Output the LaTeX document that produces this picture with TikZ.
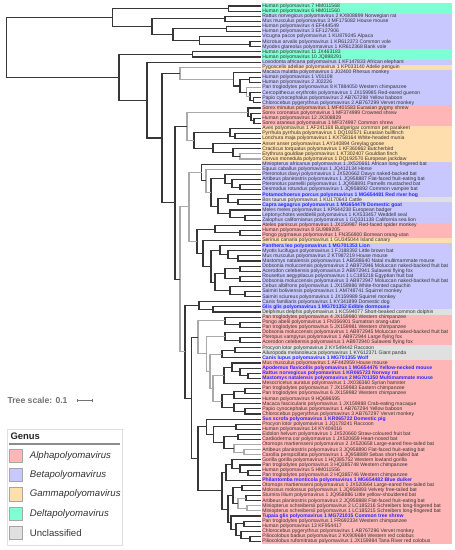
\documentclass[tikz,border=0pt]{standalone}
\usepackage{fontspec}
\setmainfont{Liberation Sans}
\usetikzlibrary{calc}
\usetikzlibrary{positioning}
\tikzset{every picture/.style={line width=0.75pt}}

\definecolor{cAlpha}{RGB}{255,182,182}
\definecolor{cBeta}{RGB}{200,200,255}
\definecolor{cGamma}{RGB}{255,222,173}
\definecolor{cDelta}{RGB}{127,255,212}
\definecolor{cUncl}{RGB}{224,224,224}
\definecolor{cNew}{RGB}{40,40,255}
\definecolor{cLine}{RGB}{55,55,55}
\definecolor{cGrey}{RGB}{170,170,170}

\tikzset{
  branch/.style={draw=cLine, line width=0.8pt},
  grey/.style={draw=cGrey},
  leaf/.style={fill=#1, anchor=west, inner xsep=0.6pt, inner ysep=0pt,
    minimum height=3.83pt, text height=2.8pt, text depth=0.8pt,
    font=\fontsize{3.8}{3.8}\selectfont, text=black!80,
    execute at begin node={\hbox to 142pt\bgroup},
    execute at end node={\hfil\egroup}},
  newpv/.style={text=cNew, font=\fontsize{3.8}{3.8}\selectfont\bfseries},
  swatch/.style={fill=#1, draw=black!35, line width=0.5pt, minimum size=10pt, inner sep=0pt},
  glabel/.style={font=\fontsize{7.2}{7.2}\selectfont\itshape, text=black!80, inner sep=0pt}
}

% internal node of the tree: name, x, upper child, lower child
\newcommand\bnode[5][]{%
  \coordinate (#2m) at ($(#4)!0.5!(#5)$);
  \coordinate (#2) at (#2m -| #3,0);
  \draw[branch,#1] (#2) |- (#4);
  \draw[branch,#1] (#2) |- (#5);
}

\begin{document}
\begin{tikzpicture}[x=0.75pt,y=0.75pt,yscale=-1,xscale=1]
\useasboundingbox (0,0) rectangle (454,550);

% Leaves
\node[leaf=cDelta] (l1) at (261,6.0) {Human polyomavirus 7 HM011568};
\node[leaf=cDelta] (l2) at (261,11.1) {Human polyomavirus 6 HM011560};
\node[leaf=cBeta] (l3) at (261,16.2) {Rattus norvegicus polyomavirus 2 KX808899 Norwegian rat};
\node[leaf=cBeta] (l4) at (261,21.3) {Mus musculus polyomavirus 3 MF175082 House mouse};
\node[leaf=cBeta] (l5) at (261,26.4) {Human polyomavirus 4 EF444549};
\node[leaf=cBeta] (l6) at (261,31.5) {Human polyomavirus 3 EF127906};
\node[leaf=cBeta] (l7) at (261,36.6) {Vicugna pacos polyomavirus 1 KU879245 Alpaca};
\node[leaf=cBeta] (l8) at (261,41.7) {Microtus arvalis polyomavirus 1 KR612373 Common vole};
\node[leaf=cBeta] (l9) at (261,46.8) {Myodes glareolus polyomavirus 1 KR612368 Bank vole};
\node[leaf=cDelta] (l10) at (261,51.9) {Human polyomavirus 11 JX463183};
\node[leaf=cDelta] (l11) at (261,57.0) {Human polyomavirus 10 JQ898291};
\node[leaf=cBeta] (l12) at (261,62.1) {Loxodonta africana polyomavirus 1 KF147833 African elephant};
\node[leaf=cGamma] (l13) at (261,67.2) {Pygoscelis adeliae polyomavirus 1 KP033140 Adelie penguin};
\node[leaf=cBeta] (l14) at (261,72.3) {Macaca mulatta polyomavirus 1 J02400 Rhesus monkey};
\node[leaf=cBeta] (l15) at (261,77.4) {Human polyomavirus 1 V01108};
\node[leaf=cBeta] (l16) at (261,82.5) {Human polyomavirus 2 J02226};
\node[leaf=cBeta] (l17) at (261,87.6) {Pan troglodytes polyomavirus 8 KT884050 Western chimpanzee};
\node[leaf=cBeta] (l18) at (261,92.7) {Cercopithecus erythrotis polyomavirus 1 JX159985 Red-eared guenon};
\node[leaf=cBeta] (l19) at (261,97.8) {Papio cynocephalus polyomavirus 2 AB767298 Yellow baboon};
\node[leaf=cBeta] (l20) at (261,102.9) {Chlorocebus pygerythrus polyomavirus 2 AB767299 Vervet monkey};
\node[leaf=cAlpha] (l21) at (261,108.0) {Sorex minutus polyomavirus 1 MF401583 Eurasian pygmy shrew};
\node[leaf=cAlpha] (l22) at (261,113.1) {Sorex coronatus polyomavirus 1 MF374999 Crowned shrew};
\node[leaf=cAlpha] (l23) at (261,118.2) {Human polyomavirus 12 JX308829};
\node[leaf=cAlpha] (l24) at (261,123.3) {Sorex araneus polyomavirus 1 MF374997 Common shrew};
\node[leaf=cGamma] (l25) at (261,128.4) {Aves polyomavirus 1 AF241168 Budgerigar common pet parakeet};
\node[leaf=cGamma] (l26) at (261,133.5) {Pyrrhula pyrrhula polyomavirus 1 DQ192571 Eurasian bullfinch};
\node[leaf=cGamma] (l27) at (261,138.6) {Lonchura maja polyomavirus 1 KX758164 White-headed munia};
\node[leaf=cGamma] (l28) at (261,143.7) {Anser anser polyomavirus 1 AY140894 Greylag goose};
\node[leaf=cGamma] (l29) at (261,148.8) {Cracticus torquatus polyomavirus 1 KF360862 Butcherbird};
\node[leaf=cGamma] (l30) at (261,153.9) {Erythrura gouldiae polyomavirus 1 KT302407 Gouldian finch};
\node[leaf=cGamma] (l31) at (261,159.0) {Corvus monedula polyomavirus 1 DQ192570 European jackdaw};
\node[leaf=cBeta] (l32) at (261,164.1) {Miniopterus africanus polyomavirus 1 JX520661 African long-fingered bat};
\node[leaf=cBeta] (l33) at (261,169.2) {Equus caballus polyomavirus 1 JQ412134 Horse};
\node[leaf=cBeta] (l34) at (261,174.3) {Pteronotus davyi polyomavirus 1 JX520662 Davys naked-backed bat};
\node[leaf=cBeta] (l35) at (261,179.4) {Artibeus planirostris polyomavirus 1 JQ958887 Flat-faced fruit-eating bat};
\node[leaf=cBeta] (l36) at (261,184.5) {Pteronotus parnellii polyomavirus 1 JQ958891 Parnells mustached bat};
\node[leaf=cBeta] (l37) at (261,189.6) {Desmodus rotundus polyomavirus 1 JQ958892 Common vampire bat};
\node[leaf=cBeta,newpv] (l38) at (261,194.7) {Potamochoerus porcus polyomavirus 1 MG654481 Red river hog};
\node[leaf=cUncl] (l39) at (261,199.8) {Bos taurus polyomavirus 1 KU170643 Cattle};
\node[leaf=cBeta,newpv] (l40) at (261,204.9) {Capra aegagrus polyomavirus 1 MG654479 Domestic goat};
\node[leaf=cBeta] (l41) at (261,210.0) {Meles meles polyomavirus 1 KP644238 European badger};
\node[leaf=cBeta] (l42) at (261,215.1) {Leptonychotes weddellii polyomavirus 1 KX533457 Weddell seal};
\node[leaf=cBeta] (l43) at (261,220.2) {Zalophus californianus polyomavirus 1 GQ331138 California sea lion};
\node[leaf=cAlpha] (l44) at (261,225.3) {Ateles paniscus polyomavirus 1 JX159987 Red-faced spider monkey};
\node[leaf=cAlpha] (l45) at (261,230.4) {Human polyomavirus 8 GU989205};
\node[leaf=cAlpha] (l46) at (261,235.5) {Pongo pygmaeus polyomavirus 1 FN356900 Bornean orang-utan};
\node[leaf=cGamma] (l47) at (261,240.6) {Serinus canaria polyomavirus 1 GU345044 Island canary};
\node[leaf=cBeta,newpv] (l48) at (261,245.7) {Panthera leo polyomavirus 1 MG701353 Lion};
\node[leaf=cBeta] (l49) at (261,250.8) {Myotis lucifugus polyomavirus 1 FJ188392 Little brown bat};
\node[leaf=cBeta] (l50) at (261,255.9) {Mus musculus polyomavirus 2 KT987219 House mouse};
\node[leaf=cBeta] (l51) at (261,261.0) {Mastomys natalensis polyomavirus 1 AB588640 Natal multimammate mouse};
\node[leaf=cBeta] (l52) at (261,266.1) {Dobsonia moluccensis polyomavirus 2 AB972946 Moluccan naked-backed fruit bat};
\node[leaf=cBeta] (l53) at (261,271.2) {Acerodon celebensis polyomavirus 2 AB972941 Sulawesi flying fox};
\node[leaf=cBeta] (l54) at (261,276.3) {Rousettus aegyptiacus polyomavirus 1 LC185218 Egyptian fruit bat};
\node[leaf=cBeta] (l55) at (261,281.4) {Dobsonia moluccensis polyomavirus 3 AB972947 Moluccan naked-backed fruit bat};
\node[leaf=cBeta] (l56) at (261,286.5) {Cebus albifrons polyomavirus 1 JX159986 White-fronted capuchin};
\node[leaf=cBeta] (l57) at (261,291.6) {Saimiri boliviensis polyomavirus 1 AM748741 Squirrel monkey};
\node[leaf=cBeta] (l58) at (261,296.7) {Saimiri sciureus polyomavirus 1 JX159989 Squirrel monkey};
\node[leaf=cBeta] (l59) at (261,301.8) {Canis familiaris polyomavirus 1 KY341899 Domestic dog};
\node[leaf=cBeta,newpv] (l60) at (261,306.9) {Glis glis polyomavirus 1 MG701352 Edible dormouse};
\node[leaf=cUncl] (l61) at (261,312.0) {Delphinus delphis polyomavirus 1 KC594077 Short-beaked common dolphin};
\node[leaf=cAlpha] (l62) at (261,317.1) {Pan troglodytes polyomavirus 4 JX159980 Western chimpanzee};
\node[leaf=cAlpha] (l63) at (261,322.2) {Pongo abelii polyomavirus 1 FN356901 Sumatran orang-utan};
\node[leaf=cAlpha] (l64) at (261,327.3) {Pan troglodytes polyomavirus 5 JX159981 Western chimpanzee};
\node[leaf=cAlpha] (l65) at (261,332.4) {Dobsonia moluccensis polyomavirus 1 AB972945 Moluccan naked-backed fruit bat};
\node[leaf=cAlpha] (l66) at (261,337.5) {Pteropus vampyrus polyomavirus 1 AB972944 Large flying fox};
\node[leaf=cAlpha] (l67) at (261,342.6) {Acerodon celebensis polyomavirus 1 AB972940 Sulawesi flying fox};
\node[leaf=cUncl] (l68) at (261,347.7) {Procyon lotor polyomavirus 2 KY549442 Raccoon};
\node[leaf=cUncl] (l69) at (261,352.8) {Ailuropoda melanoleuca polyomavirus 1 KY612371 Giant panda};
\node[leaf=cUncl,newpv] (l70) at (261,357.9) {Canis lupus polyomavirus 1 MG701355 Wolf};
\node[leaf=cAlpha] (l71) at (261,363.0) {Mus musculus polyomavirus 1 AF442959 House mouse};
\node[leaf=cAlpha,newpv] (l72) at (261,368.1) {Apodemus flavicollis polyomavirus 1 MG654476 Yellow-necked mouse};
\node[leaf=cAlpha,newpv] (l73) at (261,373.2) {Rattus norvegicus polyomavirus 1 KR065723 Norway rat};
\node[leaf=cAlpha,newpv] (l74) at (261,378.3) {Mastomys natalensis polyomavirus 2 MG701350 Multimammate mouse};
\node[leaf=cAlpha] (l75) at (261,383.4) {Mesocricetus auratus polyomavirus 1 JX036360 Syrian hamster};
\node[leaf=cAlpha] (l76) at (261,388.5) {Pan troglodytes polyomavirus 7 JX159983 Eastern chimpanzee};
\node[leaf=cAlpha] (l77) at (261,393.6) {Pan troglodytes polyomavirus 6 JX159982 Western chimpanzee};
\node[leaf=cAlpha] (l78) at (261,398.7) {Human polyomavirus 9 HQ696595};
\node[leaf=cAlpha] (l79) at (261,403.8) {Macaca fascicularis polyomavirus 1 JX159988 Crab-eating macaque};
\node[leaf=cAlpha] (l80) at (261,408.9) {Papio cynocephalus polyomavirus 1 AB767294 Yellow baboon};
\node[leaf=cAlpha] (l81) at (261,414.0) {Chlorocebus pygerythrus polyomavirus 3 AB767297 Vervet monkey};
\node[leaf=cAlpha,newpv] (l82) at (261,419.1) {Sus scrofa polyomavirus 1 KR065722 Domestic pig};
\node[leaf=cAlpha] (l83) at (261,424.2) {Procyon lotor polyomavirus 1 JQ178241 Raccoon};
\node[leaf=cAlpha] (l84) at (261,429.3) {Human polyomavirus 14 KY404016};
\node[leaf=cAlpha] (l85) at (261,434.4) {Eidolon helvum polyomavirus 1 JX520660 Straw-coloured fruit bat};
\node[leaf=cAlpha] (l86) at (261,439.5) {Cardioderma cor polyomavirus 1 JX520659 Heart-nosed bat};
\node[leaf=cAlpha] (l87) at (261,444.6) {Otomops martiensseni polyomavirus 2 JX520658 Large-eared free-tailed bat};
\node[leaf=cAlpha] (l88) at (261,449.7) {Artibeus planirostris polyomavirus 3 JQ958890 Flat-faced fruit-eating bat};
\node[leaf=cAlpha] (l89) at (261,454.8) {Carollia perspicillata polyomavirus 1 JQ958889 Sebas short-tailed bat};
\node[leaf=cAlpha] (l90) at (261,459.9) {Gorilla gorilla polyomavirus 1 HQ385752 Western lowland gorilla};
\node[leaf=cAlpha] (l91) at (261,465.0) {Pan troglodytes polyomavirus 3 HQ385748 Western chimpanzee};
\node[leaf=cAlpha] (l92) at (261,470.1) {Human polyomavirus 5 HM011556};
\node[leaf=cAlpha] (l93) at (261,475.2) {Pan troglodytes polyomavirus 2 HQ385746 Western chimpanzee};
\node[leaf=cAlpha,newpv] (l94) at (261,480.3) {Philantomba monticola polyomavirus 1 MG654482 Blue duiker};
\node[leaf=cAlpha] (l95) at (261,485.4) {Otomops martiensseni polyomavirus 1 JX520664 Large-eared free-tailed bat};
\node[leaf=cAlpha] (l96) at (261,490.5) {Molossus molossus polyomavirus 1 JQ958893 Velvety free-tailed bat};
\node[leaf=cAlpha] (l97) at (261,495.6) {Sturnira lilium polyomavirus 1 JQ958886 Little yellow-shouldered bat};
\node[leaf=cAlpha] (l98) at (261,500.7) {Artibeus planirostris polyomavirus 2 JQ958888 Flat-faced fruit-eating bat};
\node[leaf=cAlpha] (l99) at (261,505.8) {Miniopterus schreibersii polyomavirus 2 LC185216 Schreibers long-fingered bat};
\node[leaf=cAlpha] (l100) at (261,510.9) {Miniopterus schreibersii polyomavirus 1 LC185215 Schreibers long-fingered bat};
\node[leaf=cAlpha,newpv] (l101) at (261,516.0) {Tupaia glis polyomavirus 1 MG721015 Common tree shrew};
\node[leaf=cAlpha] (l102) at (261,521.1) {Pan troglodytes polyomavirus 1 FR692334 Western chimpanzee};
\node[leaf=cAlpha] (l103) at (261,526.2) {Human polyomavirus 13 KF954417};
\node[leaf=cAlpha] (l104) at (261,531.3) {Chlorocebus pygerythrus polyomavirus 1 AB767296 Vervet monkey};
\node[leaf=cAlpha] (l105) at (261,536.4) {Piliocolobus badius polyomavirus 2 KX909684 Western red colobus};
\node[leaf=cAlpha] (l106) at (261,541.5) {Piliocolobus rufomitratus polyomavirus 1 JX159984 Tana River red colobus};

% Tree: first clade
\bnode{n67}{228.3}{l1}{l2}
\bnode{nRM}{225}{l3}{l4}
\bnode{n43}{226.7}{l5}{l6}
\bnode{nMV}{250}{l8}{l9}
\bnode{nD}{199.3}{l7}{nMV}
\bnode{nC}{173}{n43}{nD}
\bnode{nB}{152}{nRM}{nC}
\bnode{nA}{112.7}{n67}{nB}
\bnode{n1011}{192.7}{l10}{l11}
% Tree: primate beta
\bnode{n12}{249.5}{l15}{l16}
\bnode{n1920}{253.3}{l19}{l20}
\bnode{nN}{250}{l18}{n1920}
\bnode[grey]{nM}{246.7}{l17}{nN}
\bnode{nK}{240}{n12}{nM}
\bnode{nI}{233.3}{l14}{nK}
\bnode[grey]{nH}{180}{l13}{nI}
% Tree: shrews and birds
\bnode{nW}{254}{l23}{l24}
\bnode{nV}{251}{l22}{nW}
\bnode{nU}{248}{l21}{nV}
\bnode{nPL}{235}{l26}{l27}
\bnode{nAv}{230}{l25}{nPL}
\bnode[grey]{nT}{240}{l30}{l31}
\bnode{nS}{233}{l29}{nT}
\bnode{nQb}{213}{l28}{nS}
\bnode{nQ}{194}{nAv}{nQb}
\bnode[grey]{nO}{187}{nU}{nQ}
% Tree: mixed beta
\bnode{nBc}{240}{l36}{l37}
\bnode{nBb}{232}{l35}{nBc}
\bnode{nBat}{225}{l34}{nBb}
\bnode{nZa}{238}{l39}{l40}
\bnode{nZ1}{228}{l38}{nZa}
\bnode{nZb}{245}{l42}{l43}
\bnode{nZ2}{230}{l41}{nZb}
\bnode{nZ}{218}{nZ1}{nZ2}
\bnode{nYc}{211}{nBat}{nZ}
\bnode[grey]{nYb}{206}{l33}{nYc}
\bnode{nY1}{201.7}{l32}{nYb}
\bnode{nPKb}{240}{l45}{l46}
\bnode{nPK}{215}{l44}{nPKb}
\bnode{nYg}{238}{l50}{l51}
\bnode{nYf}{228}{l49}{nYg}
\bnode{nYd}{220}{l48}{nYf}
\bnode{nFBa}{240}{l52}{l53}
\bnode{nFBb}{240}{l54}{l55}
\bnode{nFB}{225}{nFBa}{nFBb}
\bnode{nSAb}{245}{l57}{l58}
\bnode{nSA}{230}{l56}{nSAb}
\bnode{nYe}{215}{nFB}{nSA}
\bnode{nYy}{211}{nYd}{nYe}
\bnode{nYx}{203}{l47}{nYy}
\bnode{nY2}{197}{nPK}{nYx}
\bnode[grey]{nY}{189}{nY1}{nY2}
% Tree: alpha and the rest
\bnode{nCGb}{213}{l60}{l61}
\bnode{nCG}{199}{l59}{nCGb}
\bnode{nPPb}{240}{l63}{l64}
\bnode{nPP}{225}{l62}{nPPb}
\bnode{nFFb}{240}{l66}{l67}
\bnode{nFF}{225}{l65}{nFFb}
\bnode{nCRa}{235}{l68}{l69}
\bnode{nCR}{222}{nCRa}{l70}
\bnode{nMd}{248}{l73}{l74}
\bnode{nMc}{240}{l72}{nMd}
\bnode{nMb}{232}{l71}{nMc}
\bnode{nMur}{224}{nMb}{l75}
\bnode{nPb}{245}{l76}{l77}
\bnode{nPa}{234}{nPb}{l78}
\bnode{nPd}{245}{l80}{l81}
\bnode{nPc}{234}{l79}{nPd}
\bnode{nPri}{222}{nPa}{nPc}
\bnode[grey]{nA3}{213}{nMur}{nPri}
\bnode[grey]{nA2}{210}{nCR}{nA3}
\bnode[grey]{nA1}{206.7}{nFF}{nA2}
\bnode[grey]{nL1}{198}{nPP}{nA1}
\bnode{nSPb}{236}{l83}{l84}
\bnode{nTb}{238}{l85}{l86}
\bnode[grey]{nTd}{244}{l88}{l89}
\bnode[grey]{nTc}{234}{l87}{nTd}
\bnode{nTa}{224}{nTb}{nTc}
\bnode{nSB}{213.3}{nSPb}{nTa}
\bnode{nSS}{206.7}{l82}{nSB}
\bnode{nHc}{248}{l92}{l93}
\bnode{nHb}{240}{l91}{nHc}
\bnode{nHa}{232}{l90}{nHb}
\bnode{nHP}{226}{nHa}{l94}
\bnode{nMol}{242}{l95}{l96}
\bnode{nStu}{246}{l97}{l98}
\bnode[grey]{nMin}{247}{l99}{l100}
\bnode[grey]{nR1b}{238}{nStu}{nMin}
\bnode{nR1}{233}{nMol}{nR1b}
\bnode{nPT}{244}{l102}{l103}
\bnode{nCOb}{250}{l105}{l106}
\bnode{nCO}{241}{l104}{nCOb}
\bnode{nR2b}{236}{nPT}{nCO}
\bnode{nR2}{231}{l101}{nR2b}
\bnode{nRest}{228}{nR1}{nR2}
\bnode{nLow}{222}{nHP}{nRest}
\bnode{nL2}{198}{nSS}{nLow}
\bnode{nL}{191.7}{nL1}{nL2}
\bnode{nX2}{185}{nCG}{nL}
% Tree: backbone
\bnode[grey]{nX}{180}{nY}{nX2}
\bnode{nJ}{175}{nO}{nX}
\bnode{nG}{162}{nH}{nJ}
\bnode{nF}{147}{l12}{nG}
\bnode{nE}{119}{n1011}{nF}
\bnode{nR}{6.3}{nA}{nE}

% Tree scale
\node[anchor=west, inner sep=0pt, font=\fontsize{6.5}{6.5}\selectfont\bfseries, text=black!55] (tscale) at (7,400) {Tree scale: 0.1};
\draw[black!55, line width=0.6pt] (77,400.7) -- (92,400.7);
\draw[black!55, line width=0.6pt] (77,399) -- (77,402.4);
\draw[black!55, line width=0.6pt] (92,399) -- (92,402.4);

% Legend
\draw[black!12, line width=0.5pt] (7,429) rectangle (122,545);
\node[anchor=west, inner sep=0pt, font=\fontsize{7.1}{7.1}\selectfont\bfseries, text=black!85] (gtitle) at (10,436.5) {Genus};
\draw[black!45, line width=0.8pt] (9,444) -- (120,444);
\node[swatch=cAlpha] (sA) at (16,455.7) {};
\node[swatch=cBeta] (sB) at (16,475.0) {};
\node[swatch=cGamma] (sG) at (16,494.3) {};
\node[swatch=cDelta] (sD) at (16,513.7) {};
\node[swatch=cUncl] (sU) at (16,532.7) {};
\node[glabel, right=4.8pt of sA] (tA) {Alphapolyomavirus};
\node[glabel, right=4.8pt of sB] (tB) {Betapolyomavirus};
\node[glabel, right=4.8pt of sG] (tG) {Gammapolyomavirus};
\node[glabel, right=4.8pt of sD] (tD) {Deltapolyomavirus};
\node[glabel, right=4.8pt of sU, font=\fontsize{7.2}{7.2}\selectfont\upshape] (tU) {Unclassified};

\end{tikzpicture}
\end{document}
